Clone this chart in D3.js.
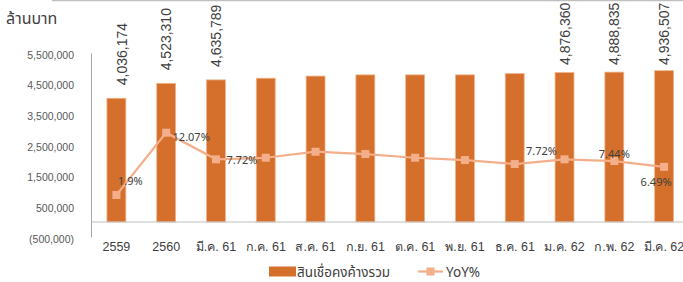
<!DOCTYPE html>
<html>
<head>
<meta charset="utf-8">
<script src="https://cdn.jsdelivr.net/npm/d3@7/dist/d3.min.js"></script>
<style>
  html, body { margin: 0; padding: 0; background: #fff; }
  svg { display: block; font-family: "Noto Sans Thai", "Leelawadee UI", "Liberation Sans", "DejaVu Sans", sans-serif; }
</style>
</head>
<body>
<svg id="chart" width="683" height="282"></svg>
<script>
// ---- data ----
const categories = ["2559", "2560", "มี.ค. 61", "ก.ค. 61", "ส.ค. 61", "ก.ย. 61", "ต.ค. 61", "พ.ย. 61", "ธ.ค. 61", "ม.ค. 62", "ก.พ. 62", "มี.ค. 62"];
const loans = [4036174, 4523310, 4635789, 4690000, 4760000, 4800000, 4800000, 4800000, 4840000, 4876360, 4888835, 4936507];
const yoy = [1.9, 12.07, 7.72, 7.98, 8.96, 8.58, 7.98, 7.6, 6.95, 7.72, 7.44, 6.49];
const showBarLabel = [true, true, true, false, false, false, false, false, false, true, true, true];
const showYoyLabel = [true, true, true, false, false, false, false, false, false, true, true, true];
const yTicks = [-500000, 500000, 1500000, 2500000, 3500000, 4500000, 5500000];
const seriesNames = ["สินเชื่อคงค้างรวม", "YoY%"];
const unitLabel = "ล้านบาท";

// ---- layout ----
const svg = d3.select("#chart");
const plot = { left: 91.5, right: 689, top: 53.4, bottom: 237.3 };
const barColor = "#D4702B", barStroke = "#F2B48A";
const lineColor = "#F4AE8A";

const x = d3.scaleBand().domain(categories).range([plot.left, plot.right]).paddingInner(0.6).paddingOuter(0.3);
const y = d3.scaleLinear().domain([-500000, 5500000]).range([plot.bottom, plot.top]);
const y2 = d3.scaleLinear().domain([-5, 25]).range([plot.bottom, plot.top]);
const cx = d => x(d) + x.bandwidth() / 2;

// top border line
svg.append("line").attr("x1", 52).attr("x2", 683).attr("y1", 0.5).attr("y2", 0.5)
  .attr("stroke", "#BFBFBF").attr("stroke-width", 1.5);

// unit label
svg.append("text").attr("x", 6).attr("y", 24).attr("font-size", 16).attr("fill", "#404040").text(unitLabel);

// y axis tick labels
const yAxis = d3.axisLeft(y).tickValues(yTicks).tickSize(0).tickPadding(0)
  .tickFormat(v => v < 0 ? "(" + d3.format(",")(-v) + ")" : d3.format(",")(v));
const gy = svg.append("g").attr("transform", `translate(${74},0)`).call(yAxis);
gy.select(".domain").remove();
gy.selectAll("text").attr("font-size", 10.5).attr("fill", "#595959").attr("font-family", "inherit").attr("dy", "0.45em");

// vertical axis line
svg.append("line").attr("x1", plot.left).attr("x2", plot.left).attr("y1", plot.top).attr("y2", plot.bottom)
  .attr("stroke", "#A6A6A6").attr("stroke-width", 1);

// bars
svg.append("g").selectAll("rect").data(loans).join("rect")
  .attr("x", (d, i) => x(categories[i]) + 0.5)
  .attr("width", x.bandwidth() - 1)
  .attr("y", d => y(d))
  .attr("height", d => y(0) - y(d))
  .attr("fill", barColor).attr("stroke", barStroke).attr("stroke-width", 0.8);

// horizontal zero axis
svg.append("line").attr("x1", plot.left).attr("x2", 683).attr("y1", y(0)).attr("y2", y(0))
  .attr("stroke", "#BFBFBF").attr("stroke-width", 1);

// x axis labels
const xAxis = d3.axisBottom(x).tickSize(0).tickPadding(0);
const gx = svg.append("g").attr("transform", `translate(0,${250.5})`).call(xAxis);
gx.select(".domain").remove();
gx.selectAll("text").attr("font-size", 12.5).attr("fill", "#404040").attr("font-family", "inherit").attr("dy", 0);

// bar value labels (rotated)
const barLabelDx = [5.5, 0, 0, 0, 0, 0, 0, 0, 0, 0, 0, 0];
svg.append("g").selectAll("text").data(loans.map((v, i) => ({ v, i })).filter(d => showBarLabel[d.i])).join("text")
  .attr("transform", d => `translate(${cx(categories[d.i]) + 5 + barLabelDx[d.i]},${Math.max(y(d.v) - 13, 65)}) rotate(-90)`)
  .attr("font-size", 14).attr("fill", "#404040").attr("font-family", "Liberation Sans, sans-serif")
  .text(d => d3.format(",")(d.v));

// YoY line
const line = d3.line().x((d, i) => cx(categories[i])).y(d => y2(d));
svg.append("path").datum(yoy).attr("d", line).attr("fill", "none").attr("stroke", lineColor).attr("stroke-width", 2.2);
svg.append("g").selectAll("rect").data(yoy).join("rect")
  .attr("x", (d, i) => cx(categories[i]) - 4).attr("y", d => y2(d) - 4)
  .attr("width", 8).attr("height", 8).attr("fill", lineColor);

// YoY labels
const yoyDx = [14, 25, 26, 0, 0, 0, 0, 0, 0, -23, 0, -8];
const yoyDy = [-10, 8, 5, 0, 0, 0, 0, 0, 0, -4, -3, 19];
svg.append("g").selectAll("text").data(yoy.map((v, i) => ({ v, i })).filter(d => showYoyLabel[d.i])).join("text")
  .attr("x", d => cx(categories[d.i]) + yoyDx[d.i])
  .attr("y", d => y2(d.v) + yoyDy[d.i])
  .attr("text-anchor", "middle")
  .attr("font-size", 11).attr("fill", "#404040")
  .text(d => (d.i === 0 ? d.v.toFixed(1) : d.v.toFixed(2)) + "%");

// legend
const lg = svg.append("g");
lg.append("rect").attr("x", 269).attr("y", 266.5).attr("width", 27).attr("height", 10).attr("fill", barColor);
lg.append("text").attr("x", 297).attr("y", 277).attr("font-size", 13.5).attr("fill", "#404040").text(seriesNames[0]);
lg.append("line").attr("x1", 418).attr("x2", 443).attr("y1", 271.5).attr("y2", 271.5).attr("stroke", lineColor).attr("stroke-width", 2.2);
lg.append("rect").attr("x", 426.5).attr("y", 267.5).attr("width", 8).attr("height", 8).attr("fill", lineColor);
lg.append("text").attr("x", 446).attr("y", 277).attr("font-size", 13.5).attr("fill", "#404040").text(seriesNames[1]);
</script>
</body>
</html>
